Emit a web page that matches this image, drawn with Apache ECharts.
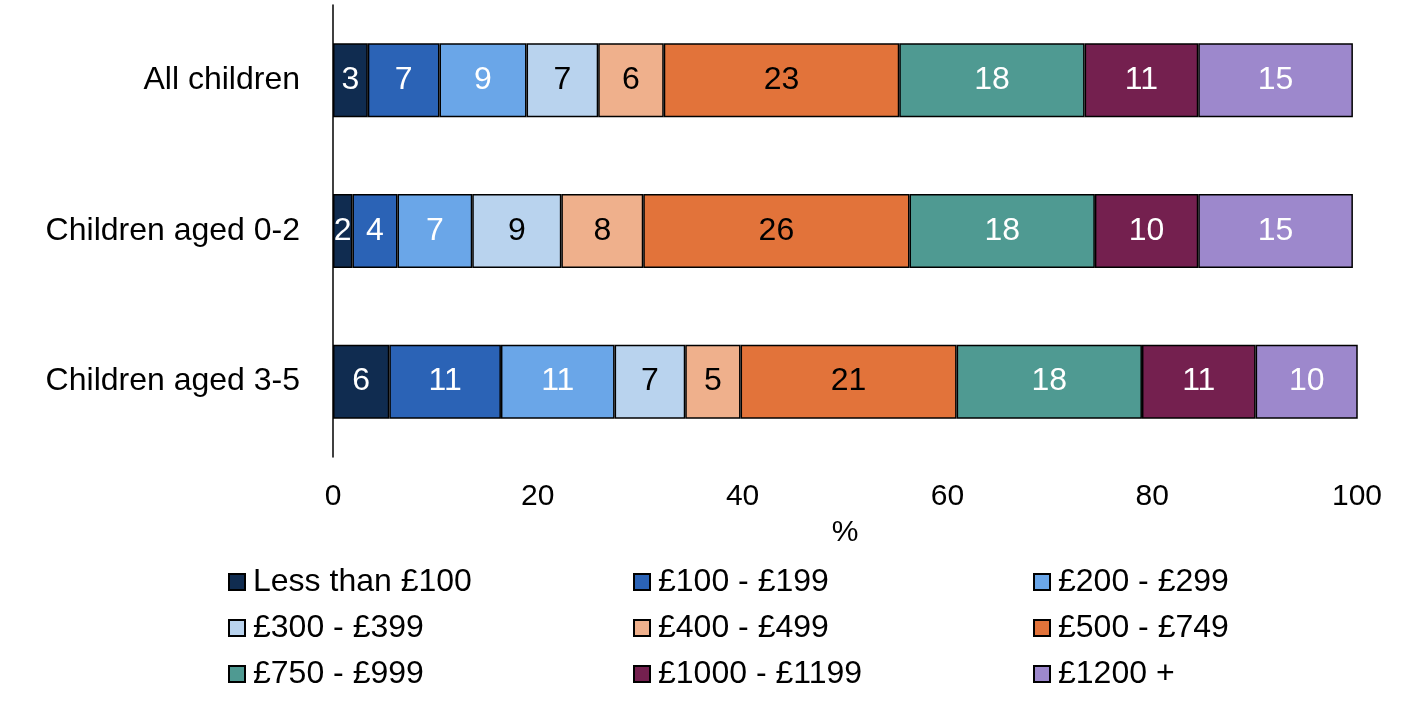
<!DOCTYPE html>
<html>
<head>
<meta charset="utf-8">
<script src="https://cdn.jsdelivr.net/npm/echarts@6/dist/echarts.min.js"></script>
<style>html,body{margin:0;padding:0;background:#fff;}#c{width:1412px;height:704px;}</style>
</head>
<body>
<div id="c"></div>
<script>
const categories = ['All children', 'Children aged 0-2', 'Children aged 3-5'];
const seriesNames = ['Less than £100', '£100 - £199', '£200 - £299', '£300 - £399', '£400 - £499', '£500 - £749', '£750 - £999', '£1000 - £1199', '£1200 +'];
const lessThan100 = [3.4, 1.9, 5.5];
const from100to199 = [7.0, 4.4, 10.9];
const from200to299 = [8.5, 7.3, 11.1];
const from300to399 = [7.0, 8.7, 6.9];
const from400to499 = [6.4, 8.0, 5.4];
const from500to749 = [23.0, 26.0, 21.1];
const from750to999 = [18.1, 18.1, 18.1];
const from1000to1199 = [11.1, 10.1, 11.1];
const over1200 = [15.1, 15.1, 10.0];
const xTicks = [0, 20, 40, 60, 80, 100];

const seriesData = [lessThan100, from100to199, from200to299, from300to399, from400to499, from500to749, from750to999, from1000to1199, over1200];
const colors = ['#102c50', '#2b63b6', '#6aa6e8', '#b9d3ee', '#efb08c', '#e2733a', '#4f9a92', '#74204f', '#9d88cc'];
const labelColors = ['#fff', '#fff', '#fff', '#000', '#000', '#000', '#fff', '#fff', '#fff'];
const FONT = 'Liberation Sans, Arial, sans-serif';

const chart = echarts.init(document.getElementById('c'));

const series = seriesNames.map((n, i) => ({
  name: n,
  type: 'bar',
  stack: 'total',
  barWidth: 74,
  data: seriesData[i],
  itemStyle: { color: colors[i], borderColor: '#000', borderWidth: 1.5 },
  label: {
    show: true,
    position: 'inside',
    color: labelColors[i],
    fontSize: 32,
    fontFamily: FONT,
    formatter: p => Math.round(p.value)
  }
}));

const colX = [228, 633, 1033];
const rowY = [566, 612, 658];
const legends = seriesNames.map((n, i) => ({
  data: [n],
  left: colX[i % 3],
  top: rowY[Math.floor(i / 3)],
  orient: 'horizontal',
  icon: 'rect',
  itemWidth: 16,
  itemHeight: 16,
  itemGap: 6,
  padding: 0,
  textStyle: { fontSize: 32, fontFamily: FONT, color: '#000', padding: [0, 0, 0, 3] },
  selectedMode: false
}));

chart.setOption({
  animation: false,
  backgroundColor: '#fff',
  grid: { left: 333, right: 55, top: 5, bottom: 247, containLabel: false },
  legend: legends,
  xAxis: {
    type: 'value',
    min: xTicks[0],
    max: xTicks[xTicks.length - 1],
    interval: 20,
    name: '%',
    nameLocation: 'middle',
    nameGap: 61,
    nameTextStyle: { fontSize: 30, fontFamily: FONT, color: '#000' },
    axisLine: { show: false },
    axisTick: { show: false },
    splitLine: { show: false },
    axisLabel: { fontSize: 30, fontFamily: FONT, color: '#000', margin: 25 }
  },
  yAxis: {
    type: 'category',
    data: categories,
    inverse: true,
    axisLine: { show: true, lineStyle: { color: '#000', width: 1.5 } },
    axisTick: { show: false },
    axisLabel: { fontSize: 32, fontFamily: FONT, color: '#000', margin: 33 }
  },
  series: series
});
</script>
</body>
</html>
